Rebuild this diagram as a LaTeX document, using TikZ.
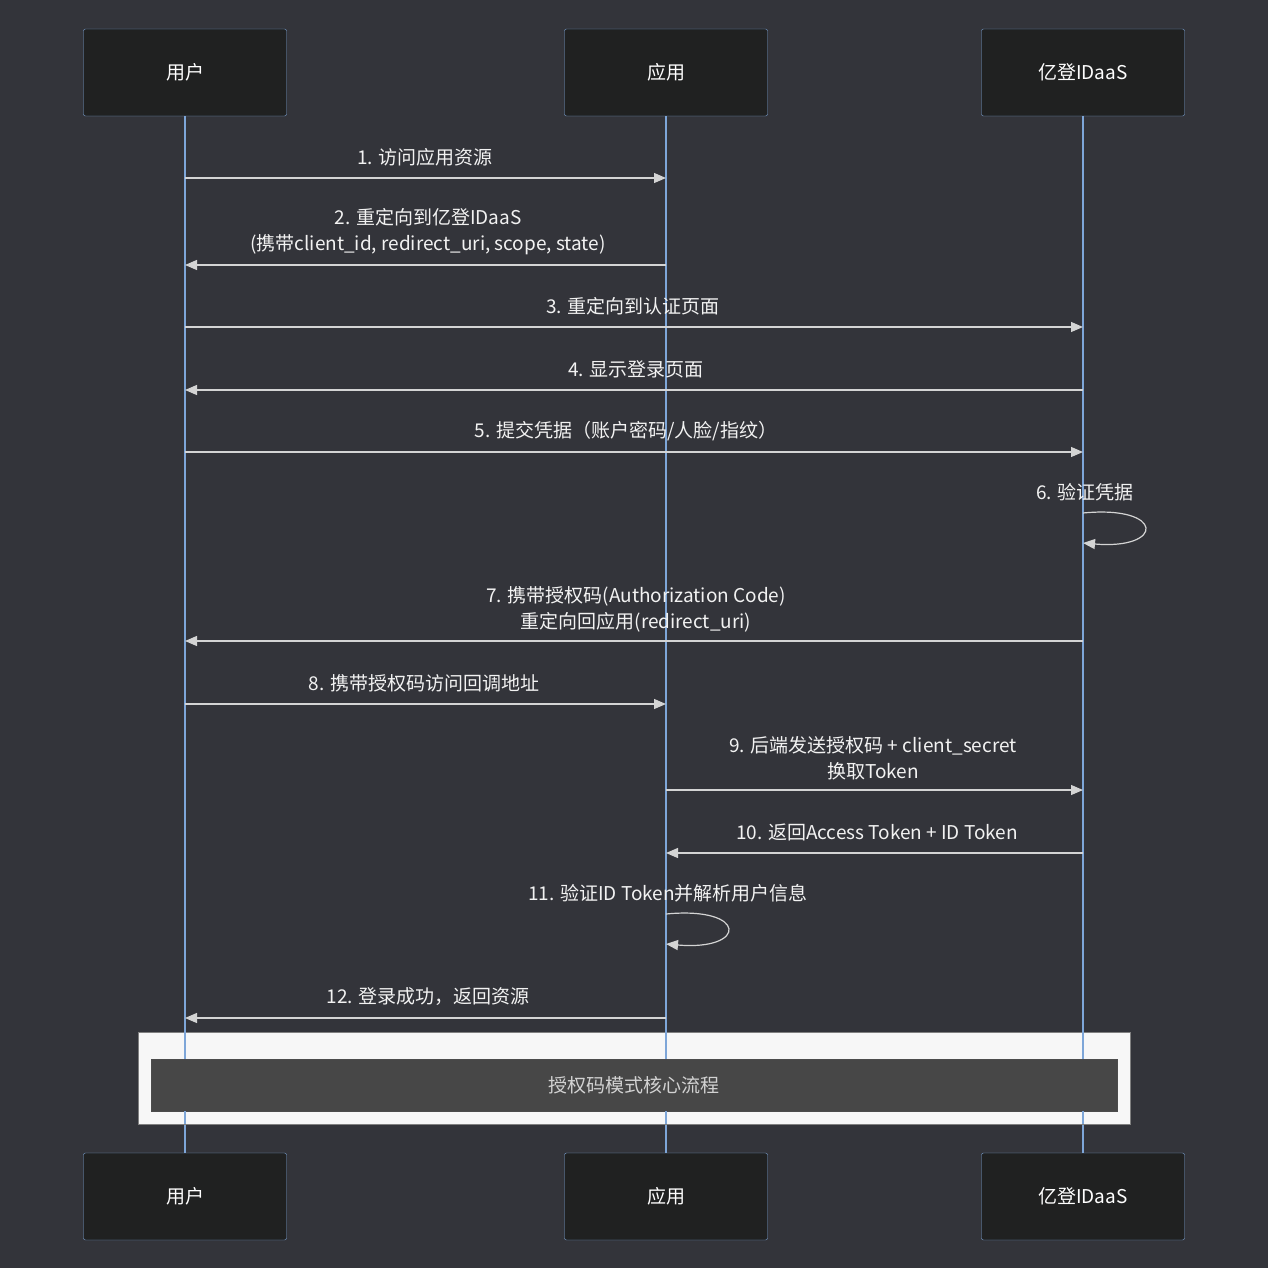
\documentclass[tikz,border=0pt]{standalone}
\usepackage{fontspec}
\setmainfont{Noto Sans CJK SC}
\usetikzlibrary{arrows.meta}
\definecolor{bg}{HTML}{33343A}
\definecolor{life}{HTML}{7EA6D8}
\definecolor{ar}{HTML}{D4D4D4}
\definecolor{boxf}{HTML}{202121}
\begin{document}
\begin{tikzpicture}[x=1pt,y=-1pt,
  actor/.style={draw=life,fill=boxf,rounded corners=2pt,minimum width=203pt,minimum height=87pt,text=white,font=\fontsize{19}{23}\selectfont},
  msg/.style={draw=ar,line width=1.2pt,-{Triangle[length=12pt,width=10pt]}},
  lbl/.style={text=white!90!gray,font=\fontsize{19}{26}\selectfont,align=center,inner sep=0pt},
  life/.style={draw=life,line width=1.5pt}]
\fill[bg] (0,0) rectangle (1268,1268);
\useasboundingbox (0,0) rectangle (1268,1268);
\foreach \n/\x/\t in {u/185/用户,a/666/应用,i/1083/亿登IDaaS}{
  \coordinate (\n top) at (\x,116);
  \coordinate (\n bot) at (\x,1153);
  \draw[life] (\n top) -- (\n bot);
  \node[actor] (\n1) at (\x,72.5) {\t};
  \node[actor] (\n2) at (\x,1196.5) {\t};
}
\fill[white!94!gray,draw=gray] (138,1032) rectangle (1130,1124);
\node[draw=black!70,fill=black!72,minimum width=966pt,minimum height=52pt,text=white!65!gray,font=\fontsize{19}{23}\selectfont] (note) at (634,1085) {授权码模式核心流程};
\draw[life] (185,1032)--(185,1059) (185,1111)--(185,1124);
\draw[life] (666,1032)--(666,1059) (666,1111)--(666,1124);
\draw[life] (1083,1032)--(1083,1059) (1083,1111)--(1083,1124);
% messages
\foreach \y/\n in {178/1,265/2,327/3,390/4,452/5,641/7,704/8,790/9,853/10,1018/12}{}
\coordinate (u1) at (185,178); \coordinate (a1) at (666,178);
\draw[msg] (u1) -- (a1);
\node[lbl] at (425,157) {1. 访问应用资源};
\coordinate (u2) at (185,265); \coordinate (a2) at (666,265);
\draw[msg] (a2) -- (u2);
\node[lbl] at (428,232) {2. 重定向到亿登IDaaS\\(携带client\_id, redirect\_uri, scope, state)};
\coordinate (u3) at (185,327); \coordinate (i3) at (1083,327);
\draw[msg] (u3) -- (i3);
\node[lbl] at (633,306) {3. 重定向到认证页面};
\coordinate (u4) at (185,390); \coordinate (i4) at (1083,390);
\draw[msg] (i4) -- (u4);
\node[lbl] at (636,369) {4. 显示登录页面};
\coordinate (u5) at (185,452); \coordinate (i5) at (1083,452);
\draw[msg] (u5) -- (i5);
\node[lbl] at (626,431) {5. 提交凭据（账户密码/人脸/指纹）};
\coordinate (i6a) at (1083,513); \coordinate (i6b) at (1083,543);
\draw[msg] (i6a) .. controls (1165,505) and (1165,550) .. (i6b);
\node[lbl] at (1085,492) {6. 验证凭据};
\coordinate (u7) at (185,641); \coordinate (i7) at (1083,641);
\draw[msg] (i7) -- (u7);
\node[lbl] at (636,609) {7. 携带授权码(Authorization Code)\\重定向回应用(redirect\_uri)};
\coordinate (u8) at (185,704); \coordinate (a8) at (666,704);
\draw[msg] (u8) -- (a8);
\node[lbl] at (424,683) {8. 携带授权码访问回调地址};
\coordinate (a9) at (666,790); \coordinate (i9) at (1083,790);
\draw[msg] (a9) -- (i9);
\node[lbl] at (873,758) {9. 后端发送授权码 + client\_secret\\换取Token};
\coordinate (a10) at (666,853); \coordinate (i10) at (1083,853);
\draw[msg] (i10) -- (a10);
\node[lbl] at (877,832) {10. 返回Access Token + ID Token};
\coordinate (a11a) at (666,914); \coordinate (a11b) at (666,944);
\draw[msg] (a11a) .. controls (748,906) and (748,951) .. (a11b);
\node[lbl] at (668,893) {11. 验证ID Token并解析用户信息};
\coordinate (u12) at (185,1018); \coordinate (a12) at (666,1018);
\draw[msg] (a12) -- (u12);
\node[lbl] at (428,997) {12. 登录成功，返回资源};
\end{tikzpicture}
\end{document}
